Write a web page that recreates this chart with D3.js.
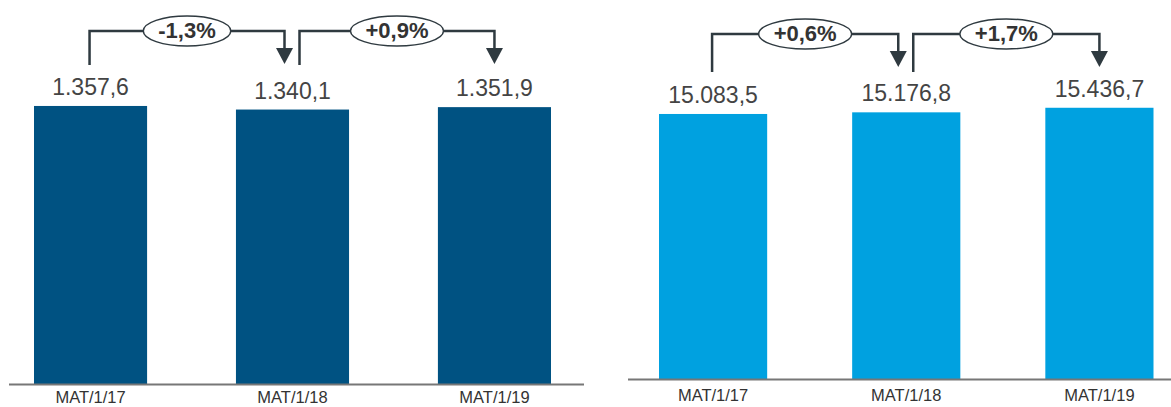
<!DOCTYPE html>
<html>

<head>
    <meta charset="utf-8">
    <title>MAT bars</title>
    <style>
        body { margin: 0; background: #fff; }
        text { font-family: "Liberation Sans", Arial, sans-serif; }
    </style>
</head>

<body>
    <script src='https://d3js.org/d3.v7.min.js'></script>
    <script>
    // data
    var categories = ["MAT/1/17", "MAT/1/18", "MAT/1/19"];
    var valuesLeft = [1357.6, 1340.1, 1351.9];
    var valuesRight = [15083.5, 15176.8, 15436.7];
    var changesLeft = ["-1,3%", "+0,9%"];
    var changesRight = ["+0,6%", "+1,7%"];

    const width = 1171;
    const height = 407;

    // numbers are written 1.357,6
    var locale = d3.formatLocale({decimal: ",", thousands: ".", grouping: [3]});
    var fmt = locale.format(",.1f");

    var svg = d3.select("body")
        .append("svg")
        .attr("width", width)
        .attr("height", height);

    function drawPanel(p) {
        var x = d3.scaleBand()
            .domain(categories)
            .range([p.x0, p.x1])
            .paddingInner(0.44)
            .paddingOuter(0);

        var y = d3.scaleLinear()
            .domain([0, p.yMax])
            .range([p.base, 0]);

        var g = svg.append("g");

        g.selectAll("rect")
            .data(p.values)
            .enter()
            .append("rect")
            .attr("x", function(d, i) { return x(categories[i]); })
            .attr("y", function(d) { return y(d); })
            .attr("width", x.bandwidth())
            .attr("height", function(d) { return y(0) - y(d); })
            .attr("fill", p.color);

        // baseline
        g.append("line")
            .attr("x1", p.axisX0)
            .attr("x2", p.axisX1)
            .attr("y1", p.base + 0.5)
            .attr("y2", p.base + 0.5)
            .attr("stroke", "#777")
            .attr("stroke-width", 2);

        // value labels
        g.selectAll("text.val")
            .data(p.values)
            .enter()
            .append("text")
            .attr("class", "val")
            .attr("x", function(d, i) { return x(categories[i]) + x.bandwidth() / 2; })
            .attr("y", function(d) { return y(d) - 11; })
            .attr("text-anchor", "middle")
            .attr("font-size", 23)
            .attr("fill", "#444")
            .text(function(d) { return fmt(d); });

        // category labels
        g.selectAll("text.cat")
            .data(categories)
            .enter()
            .append("text")
            .attr("class", "cat")
            .attr("x", function(d) { return x(d) + x.bandwidth() / 2; })
            .attr("y", p.catY)
            .attr("text-anchor", "middle")
            .attr("font-size", 16.5)
            .attr("fill", "#333")
            .text(function(d) { return d; });

        // change brackets
        var n = categories.length;
        p.changes.forEach(function(c, i) {
            var cFrom = x(categories[i]) + x.bandwidth() / 2;
            var cTo = x(categories[i + 1]) + x.bandwidth() / 2;
            var xs = i > 0 ? cFrom + 7 : cFrom - 1;
            var xe = i + 1 < n - 1 ? cTo - 8 : cTo;
            var topY = p.bracketY;

            g.append("path")
                .attr("d", "M" + xs + "," + p.startY + "V" + topY + "H" + xe + "V" + (p.tipY - 14))
                .attr("fill", "none")
                .attr("stroke", "#2f3a40")
                .attr("stroke-width", 2.5);

            g.append("path")
                .attr("d", "M" + (xe - 8.5) + "," + (p.tipY - 16) + "L" + (xe + 8.5) + "," + (p.tipY - 16) + "L" + xe + "," + p.tipY + "Z")
                .attr("fill", "#2f3a40");

            var mid = (xs + xe) / 2;
            var ell = g.append("ellipse")
                .attr("cx", mid)
                .attr("cy", topY)
                .attr("ry", 15)
                .attr("fill", "#fff")
                .attr("stroke", "#2f3a40")
                .attr("stroke-width", 1.5);

            var t = g.append("text")
                .attr("x", mid)
                .attr("y", topY + 7)
                .attr("text-anchor", "middle")
                .attr("font-size", 22)
                .attr("font-weight", "bold")
                .attr("fill", "#333")
                .text(c);

            ell.attr("rx", t.node().getComputedTextLength() / 2 + 15);
        });
    }

    drawPanel({
        values: valuesLeft, changes: changesLeft, color: "#005282",
        x0: 34, x1: 551, base: 384, yMax: 1875,
        axisX0: 9, axisX1: 584, catY: 403,
        bracketY: 31, startY: 65, tipY: 64
    });

    drawPanel({
        values: valuesRight, changes: changesRight, color: "#00a1e0",
        x0: 659, x1: 1153.5, base: 379, yMax: 21570,
        axisX0: 628, axisX1: 1171, catY: 401,
        bracketY: 34, startY: 72, tipY: 67
    });
    </script>
</body>

</html>
